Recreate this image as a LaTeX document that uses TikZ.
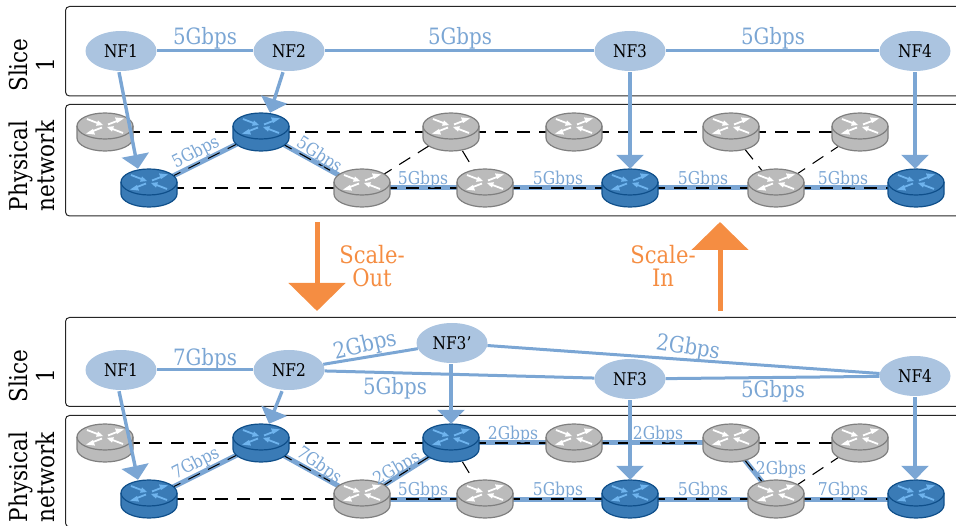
\documentclass[tikz,border=0pt]{standalone}
\usepackage{fontspec}
\setmainfont{DejaVu Serif}[FakeStretch=0.88]
\usetikzlibrary{arrows.meta,shapes.geometric}
\definecolor{lnk}{HTML}{7BA6D4}
\definecolor{nff}{HTML}{ABC4E0}
\definecolor{org}{HTML}{F58D42}
\definecolor{bfill}{HTML}{3A7BB6}
\definecolor{bedge}{HTML}{0F4F8A}
\definecolor{bicon}{HTML}{6FB4EE}
\definecolor{gfill}{HTML}{BBBBBB}
\definecolor{gedge}{HTML}{7F7F7F}
\tikzset{
  panel/.style={draw=black!85,line width=1pt,rounded corners=4pt},
  nf/.style={ellipse,fill=nff,minimum width=71pt,minimum height=40pt,inner sep=0pt,font=\fontsize{17.5}{17.5}\selectfont},
  rt/.style={minimum width=57pt,minimum height=38pt,inner sep=0pt},
  phys/.style={dash pattern=on 13pt off 9pt,line width=1.1pt},
  res/.style={lnk,line width=5pt},
  vl/.style={lnk,line width=3pt},
  mapto/.style={lnk,line width=3.4pt,-{Triangle[width=27pt,length=14pt]}},
  big/.style={org,line width=5pt,-{Triangle[width=56pt,length=28pt]}},
  bl/.style={lnk,font=\fontsize{22.5}{22.5}\selectfont,inner sep=0pt,yshift=-2pt},
  sl/.style={lnk,font=\fontsize{17.7}{17.7}\selectfont,inner sep=0pt,yshift=-1.5pt},
  side/.style={rotate=90,align=center,font=\fontsize{24.5}{27}\selectfont,inner sep=0pt},
  scalelab/.style={org,align=center,font=\fontsize{24}{23}\selectfont,inner sep=0pt},
}
% body of a router, drawn over the links at node #1; #2 fill, #3 edge, #4 icon
\newcommand{\routerbody}[4]{%
  \begin{scope}[shift={(#1.center)}]
    \path[fill=#2,draw=#3,line width=1.2pt] (-28,-6) -- (-28,6) arc[start angle=180,end angle=0,x radius=28,y radius=13] -- (28,-6) arc[start angle=0,end angle=-180,x radius=28,y radius=13] -- cycle;
    \draw[#3,line width=1.2pt] (-28,-6) arc[start angle=180,end angle=0,x radius=28,y radius=13];
    \begin{scope}[yshift=6pt,#4,line width=1.8pt]
      \foreach \sx/\sy/\tipin in {1/1/1,-1/-1/1,-1/1/0,1/-1/0}{
        \begin{scope}[xscale=\sx,yscale=\sy]
          \ifnum\tipin=1
            \draw (18,7) -- (6,2.4);
            \fill (2,1) -- (9,0.2) -- (7,5.6) -- cycle;
          \else
            \draw (3,1.5) -- (12,5);
            \fill (19,7.6) -- (10,8.6) -- (12,3) -- cycle;
          \fi
        \end{scope}
      }
    \end{scope}
  \end{scope}}
\newcommand{\gr}[1]{\routerbody{#1}{gfill}{gedge}{white}}
\newcommand{\br}[1]{\routerbody{#1}{bfill}{bedge}{bicon}}
\begin{document}
\begin{tikzpicture}[x=1pt,y=-1pt]
\useasboundingbox (0,0) rectangle (956,526);
% panels
\node[side] (s1) at (32,65) {Slice\\1};
\node[side] (p1) at (32,166) {Physical\\network};
\node[side] (s2) at (32,376) {Slice\\1};
\node[side] (p2) at (32,477) {Physical\\network};
\draw[panel] (65.5,6.5) rectangle (975,96);
\draw[panel] (65.5,104.5) rectangle (975,216);
\draw[panel] (65.5,317.5) rectangle (975,406.5);
\draw[panel] (65.5,415.5) rectangle (975,527);
% router placeholders
\foreach \n/\x in {a/105,b/261,c/451,d/574,e/731,f/860}{
  \node[rt] (t\n) at (\x,132) {};
  \node[rt] (l\n) at (\x,443) {};
}
\foreach \n/\x in {g/149,h/362,i/485,j/630,k/776,m/916}{
  \node[rt] (t\n) at (\x,188) {};
  \node[rt] (l\n) at (\x,499) {};
}
% reserved links, upper
\foreach \u/\v in {tg/tb,tb/th,th/ti,ti/tj,tj/tk,tk/tm,
  lg/lb,lb/lh,lh/lc,lc/ld,ld/le,le/lk,lh/li,li/lj,lj/lk,lk/lm}{
  \draw[res] (\u.center) -- (\v.center);
}
% physical links
\foreach \p in {t,l}{
  \foreach \u/\v in {a/b,b/c,c/d,d/e,e/f,g/h,h/i,i/j,j/k,k/m,g/b,b/h,h/c,c/i,e/k,f/k}{
    \draw[phys] (\p\u.center) -- (\p\v.center);
  }
}
% router bodies
\foreach \n in {ta,tc,td,te,tf,th,ti,tk,la,ld,le,lf,lh,li,lk}{\gr{\n}}
\foreach \n in {tb,tg,tj,tm,lb,lc,lg,lj,lm}{\br{\n}}
% upper slice
\node[nf] (n1) at (121,51) {NF1};
\node[nf] (n2) at (289,51) {NF2};
\node[nf] (n3) at (630,51) {NF3};
\node[nf] (n4) at (915,51) {NF4};
\draw[vl] (n1) -- (n2);
\draw[vl] (n2) -- (n3);
\draw[vl] (n3) -- (n4);
\draw[mapto] ([xshift=-2pt,yshift=-1pt]n1.south) -- ([xshift=-11pt]tg.north);
\draw[mapto] ([xshift=-6pt,yshift=-1pt]n2.south) -- ([xshift=9pt]tb.north);
\draw[mapto] ([yshift=-1pt]n3.south) -- (tj.north);
\draw[mapto] ([yshift=-1pt]n4.south) -- ([xshift=-1pt]tm.north);
\node[bl] (u1) at (205,36) {5Gbps};
\node[bl] (u2) at (460,36) {5Gbps};
\node[bl] (u3) at (773,36) {5Gbps};
\node[sl,rotate=27] (u4) at (196,151) {5Gbps};
\node[sl,rotate=-33] (u5) at (319,154) {5Gbps};
\node[sl] (u6) at (423,178) {5Gbps};
\node[sl] (u7) at (558,178) {5Gbps};
\node[sl] (u8) at (703,178) {5Gbps};
\node[sl] (u9) at (843,178) {5Gbps};
% scale arrows
\coordinate (oa) at (317,222);
\coordinate (ob) at (317,311);
\coordinate (ia) at (720,311);
\coordinate (ib) at (720,222);
\draw[big] (oa) -- (ob);
\draw[big] (ia) -- (ib);
\node[scalelab] (so) at (372,266) {Scale-\\Out};
\node[scalelab] (si) at (663,266) {Scale-\\In};
% lower slice
\node[nf] (q1) at (121,370) {NF1};
\node[nf] (q2) at (289,370) {NF2};
\node[nf] (q5) at (452,343) {NF3’};
\node[nf] (q3) at (630,379) {NF3};
\node[nf] (q4) at (915,376) {NF4};
\draw[vl] (q1) -- (q2);
\draw[vl] (q2) -- (q5);
\draw[vl] (q2) -- (q3);
\draw[vl] (q3) -- (q4);
\draw[vl] (q5) -- (q4);
\draw[mapto] ([xshift=-2pt,yshift=-1pt]q1.south) -- ([xshift=-11pt]lg.north);
\draw[mapto] ([xshift=-7pt,yshift=-1pt]q2.south) -- ([xshift=8pt]lb.north);
\draw[mapto] ([xshift=-1pt,yshift=-1pt]q5.south) -- (lc.north);
\draw[mapto] ([yshift=-1pt]q3.south) -- (lj.north);
\draw[mapto] ([yshift=-1pt]q4.south) -- ([xshift=-1pt]lm.north);
\node[bl] (v1) at (205,357) {7Gbps};
\node[bl,rotate=13] (v2) at (365,344) {2Gbps};
\node[bl] (v3) at (395,386) {5Gbps};
\node[bl,rotate=-9] (v4) at (688,346) {2Gbps};
\node[bl] (v5) at (773,389) {5Gbps};
\node[sl,rotate=27] (v6) at (196,462) {7Gbps};
\node[sl,rotate=-35] (v7) at (319,464) {7Gbps};
\node[sl,rotate=30] (v8) at (397,467) {2Gbps};
\node[sl] (v9) at (423,489) {5Gbps};
\node[sl] (v10) at (513,433) {2Gbps};
\node[sl] (v11) at (658,433) {2Gbps};
\node[sl] (v12) at (781,468) {2Gbps};
\node[sl] (v13) at (558,489) {5Gbps};
\node[sl] (v14) at (703,489) {5Gbps};
\node[sl] (v15) at (843,489) {7Gbps};
\end{tikzpicture}
\end{document}
